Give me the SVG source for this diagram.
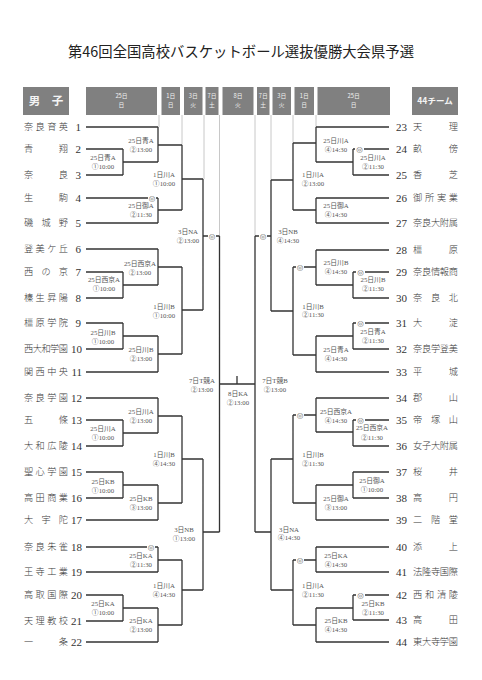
<svg xmlns="http://www.w3.org/2000/svg" width="482" height="680" viewBox="0 0 482 680">
<style>
.title{font-family:"Noto Sans CJK JP",sans-serif;font-size:14.5px;fill:#222}
.hb{fill:#808080}
.ht{font-family:"Noto Sans CJK JP",sans-serif;font-size:5.8px;fill:#f2f2f2;text-anchor:middle}
.hbig{font-family:"Noto Sans CJK JP",sans-serif;font-weight:bold;fill:#f4f4f4;text-anchor:middle}
.nm{font-family:"Noto Sans CJK JP",sans-serif;font-size:9.2px;font-weight:300;fill:#3a3a3a}
.no{font-family:"Liberation Serif",serif;font-size:11px;fill:#333}
.lb{font-family:"Liberation Serif","Noto Sans CJK JP",serif;font-size:6.8px;fill:#555;text-anchor:middle}
.c{font-family:"Noto Sans CJK JP","DejaVu Sans",sans-serif;fill:#555}
.mk{font-family:"DejaVu Sans",sans-serif;font-size:7.5px;fill:#666;text-anchor:middle}
.ln{fill:none;stroke:#333;stroke-width:1.3}
.lt{fill:none;stroke:#c8c8c8;stroke-width:1}
</style>
<rect width="482" height="680" fill="#fff"/>
<text class="title" x="68" y="57" textLength="346" lengthAdjust="spacingAndGlyphs">第46回全国高校バスケットボール選抜優勝大会県予選</text>

<g id="header">
<rect class="hb" x="23" y="87" width="46" height="28"/>
<text class="hbig" x="46" y="105" font-size="11.5">男　子</text>
<rect class="hb" x="86" y="87" width="71" height="28"/><text class="ht" x="121.5" y="97.7">25日</text><text class="ht" x="121.5" y="107">日</text>
<rect class="hb" x="161.5" y="87" width="18.5" height="28"/><text class="ht" x="170.7" y="97.7">1日</text><text class="ht" x="170.7" y="107">日</text>
<rect class="hb" x="184" y="87" width="18.5" height="28"/><text class="ht" x="193.2" y="97.7">3日</text><text class="ht" x="193.2" y="107">火</text>
<rect class="hb" x="205.5" y="87" width="13" height="28"/><text class="ht" x="212" y="97.7">7日</text><text class="ht" x="212" y="107">土</text>
<rect class="hb" x="222.5" y="87" width="31" height="28"/><text class="ht" x="238" y="97.7">8日</text><text class="ht" x="238" y="107">火</text>
<rect class="hb" x="257" y="87" width="12.5" height="28"/><text class="ht" x="263.2" y="97.7">7日</text><text class="ht" x="263.2" y="107">土</text>
<rect class="hb" x="272.5" y="87" width="18.5" height="28"/><text class="ht" x="281.7" y="97.7">3日</text><text class="ht" x="281.7" y="107">火</text>
<rect class="hb" x="294.5" y="87" width="19.5" height="28"/><text class="ht" x="304.2" y="97.7">1日</text><text class="ht" x="304.2" y="107">日</text>
<rect class="hb" x="317.5" y="87" width="72.5" height="28"/><text class="ht" x="353.7" y="97.7">25日</text><text class="ht" x="353.7" y="107">日</text>
<rect class="hb" x="412" y="87" width="46" height="28"/>
<text class="hbig" x="435" y="104" font-size="8.5">44チーム</text>
</g>

<g id="connectors">
<path class="lt" d="M159 115V127M182 115V145M204 115V179M219.5 115V236M255 115V236M271 115V180M293 115V143M316 115V127"/>
<path class="ln" d="M86 127H158M86 149H123M86 175H123M86 198H148M156 198H158M86 223H158M86 249H158M86 272H123M86 298H123M86 323H123M86 349H123M86 372H158M86 398H158M86 420H123M86 446H123M86 472H123M86 498H123M86 520H158M86 547H147M155 547H158M86 572H158M86 595H123M86 621H123M86 642H158"/>
<path class="ln" d="M123 149V175M123 162H158M158 127V162M158 145H182M158 198V223M158 210H182M182 145V210M182 179H203M123 272V298M123 285H158M158 249V285M158 267H182M123 323V349M123 336H158M158 336V372M158 354H182M182 267V354M182 310H203M203 179V310M203 236H208M216 236H219.5M123 420V446M123 433H158M158 398V433M158 416H182M123 472V498M123 485H158M158 485V520M158 503H182M182 416V503M182 459H203M158 547V572M158 560H182M123 595V621M123 608H158M158 608V642M158 625H182M182 560V625M182 590H203M203 459V590M203 532H219.5M219.5 236V532M219.5 384H255M237 376V384M255 236V532"/>
<path class="ln" d="M316 127H389M353 149H355M364 149H389M353 175H389M316 198H389M316 223H389M316 250H389M353 272H356M365 272H389M353 298H389M353 323H356M365 323H389M353 349H389M316 372H389M316 398H389M353 420H356M365 420H389M353 446H389M353 472H389M353 498H389M316 520H389M316 547H389M316 572H389M353 595H356M365 595H389M353 620H389M316 642H389"/>
<path class="ln" d="M353 149V175M353 162H316M316 127V162M316 143H293M316 198V223M316 210H293M293 143V210M293 180H271M353 272V298M353 285H316M316 250V285M316 267H304M296 267H293M353 323V349M353 336H316M316 336V372M316 355H293M293 267V355M293 311H271M271 180V311M271 236H267M259 236H255M353 420V446M353 432H316M316 398V432M316 415H304M296 415H293M353 472V498M353 485H316M316 485V520M316 503H293M293 415V503M293 459H271M316 547V572M316 560H304M296 560H293M353 595V620M353 608H316M316 608V642M316 625H293M293 560V625M293 590H271M271 459V590M271 532H255"/>
<g id="marks">
<text class="mk" x="152" y="200.7">◎</text>
<text class="mk" x="212" y="238.7">◎</text>
<text class="mk" x="151" y="549.7">◎</text>
<text class="mk" x="359.5" y="151.7">◎</text>
<text class="mk" x="263" y="238.7">◎</text>
<text class="mk" x="300" y="269.7">◎</text>
<text class="mk" x="360.5" y="274.7">◎</text>
<text class="mk" x="360.5" y="325.7">◎</text>
<text class="mk" x="300" y="417.7">◎</text>
<text class="mk" x="360.5" y="422.7">◎</text>
<text class="mk" x="300" y="562.7">◎</text>
<text class="mk" x="360.5" y="597.7">◎</text>
</g>
</g>

<g id="teams-left">
<g id="t1"><text class="nm" x="24" y="130.3" textLength="44" lengthAdjust="spacing">奈良育英</text><text class="no" x="81" y="131" text-anchor="end">1</text></g>
<g id="t2"><text class="nm" x="24" y="152.3" textLength="44" lengthAdjust="spacing">青翔</text><text class="no" x="81" y="153" text-anchor="end">2</text></g>
<g id="t3"><text class="nm" x="24" y="178.3" textLength="44" lengthAdjust="spacing">奈良</text><text class="no" x="81" y="179" text-anchor="end">3</text></g>
<g id="t4"><text class="nm" x="24" y="201.3" textLength="44" lengthAdjust="spacing">生駒</text><text class="no" x="81" y="202" text-anchor="end">4</text></g>
<g id="t5"><text class="nm" x="24" y="226.3" textLength="44" lengthAdjust="spacing">磯城野</text><text class="no" x="81" y="227" text-anchor="end">5</text></g>
<g id="t6"><text class="nm" x="24" y="252.3" textLength="44" lengthAdjust="spacing">登美ケ丘</text><text class="no" x="81" y="253" text-anchor="end">6</text></g>
<g id="t7"><text class="nm" x="24" y="275.3" textLength="44" lengthAdjust="spacing">西の京</text><text class="no" x="81" y="276" text-anchor="end">7</text></g>
<g id="t8"><text class="nm" x="24" y="301.3" textLength="44" lengthAdjust="spacing">榛生昇陽</text><text class="no" x="81" y="302" text-anchor="end">8</text></g>
<g id="t9"><text class="nm" x="24" y="326.3" textLength="44" lengthAdjust="spacing">橿原学院</text><text class="no" x="81" y="327" text-anchor="end">9</text></g>
<g id="t10"><text class="nm" x="24" y="352.3" textLength="44" lengthAdjust="spacing">西大和学園</text><text class="no" x="82" y="353" text-anchor="end">10</text></g>
<g id="t11"><text class="nm" x="24" y="375.3" textLength="44" lengthAdjust="spacing">関西中央</text><text class="no" x="82" y="376" text-anchor="end">11</text></g>
<g id="t12"><text class="nm" x="24" y="401.3" textLength="44" lengthAdjust="spacing">奈良学園</text><text class="no" x="82" y="402" text-anchor="end">12</text></g>
<g id="t13"><text class="nm" x="24" y="423.3" textLength="44" lengthAdjust="spacing">五條</text><text class="no" x="82" y="424" text-anchor="end">13</text></g>
<g id="t14"><text class="nm" x="24" y="449.3" textLength="44" lengthAdjust="spacing">大和広陵</text><text class="no" x="82" y="450" text-anchor="end">14</text></g>
<g id="t15"><text class="nm" x="24" y="475.3" textLength="44" lengthAdjust="spacing">聖心学園</text><text class="no" x="82" y="476" text-anchor="end">15</text></g>
<g id="t16"><text class="nm" x="24" y="501.3" textLength="44" lengthAdjust="spacing">高田商業</text><text class="no" x="82" y="502" text-anchor="end">16</text></g>
<g id="t17"><text class="nm" x="24" y="523.3" textLength="44" lengthAdjust="spacing">大宇陀</text><text class="no" x="82" y="524" text-anchor="end">17</text></g>
<g id="t18"><text class="nm" x="24" y="550.3" textLength="44" lengthAdjust="spacing">奈良朱雀</text><text class="no" x="82" y="551" text-anchor="end">18</text></g>
<g id="t19"><text class="nm" x="24" y="575.3" textLength="44" lengthAdjust="spacing">王寺工業</text><text class="no" x="82" y="576" text-anchor="end">19</text></g>
<g id="t20"><text class="nm" x="24" y="598.3" textLength="44" lengthAdjust="spacing">高取国際</text><text class="no" x="82" y="599" text-anchor="end">20</text></g>
<g id="t21"><text class="nm" x="24" y="624.3" textLength="44" lengthAdjust="spacing">天理教校</text><text class="no" x="82" y="625" text-anchor="end">21</text></g>
<g id="t22"><text class="nm" x="24" y="645.3" textLength="44" lengthAdjust="spacing">一条</text><text class="no" x="82" y="646" text-anchor="end">22</text></g>
</g>

<g id="teams-right">
<g id="t23"><text class="no" x="396" y="131">23</text><text class="nm" x="413" y="130.3" textLength="45" lengthAdjust="spacing">天理</text></g>
<g id="t24"><text class="no" x="396" y="153">24</text><text class="nm" x="413" y="152.3" textLength="45" lengthAdjust="spacing">畝傍</text></g>
<g id="t25"><text class="no" x="396" y="179">25</text><text class="nm" x="413" y="178.3" textLength="45" lengthAdjust="spacing">香芝</text></g>
<g id="t26"><text class="no" x="396" y="202">26</text><text class="nm" x="413" y="201.3" textLength="45" lengthAdjust="spacing">御所実業</text></g>
<g id="t27"><text class="no" x="396" y="227">27</text><text class="nm" x="413" y="226.3" textLength="45" lengthAdjust="spacing">奈良大附属</text></g>
<g id="t28"><text class="no" x="396" y="254">28</text><text class="nm" x="413" y="253.3" textLength="45" lengthAdjust="spacing">橿原</text></g>
<g id="t29"><text class="no" x="396" y="276">29</text><text class="nm" x="413" y="275.3" textLength="45" lengthAdjust="spacing">奈良情報商</text></g>
<g id="t30"><text class="no" x="396" y="302">30</text><text class="nm" x="413" y="301.3" textLength="45" lengthAdjust="spacing">奈良北</text></g>
<g id="t31"><text class="no" x="396" y="327">31</text><text class="nm" x="413" y="326.3" textLength="45" lengthAdjust="spacing">大淀</text></g>
<g id="t32"><text class="no" x="396" y="353">32</text><text class="nm" x="413" y="352.3" textLength="45" lengthAdjust="spacing">奈良学登美</text></g>
<g id="t33"><text class="no" x="396" y="376">33</text><text class="nm" x="413" y="375.3" textLength="45" lengthAdjust="spacing">平城</text></g>
<g id="t34"><text class="no" x="396" y="402">34</text><text class="nm" x="413" y="401.3" textLength="45" lengthAdjust="spacing">郡山</text></g>
<g id="t35"><text class="no" x="396" y="424">35</text><text class="nm" x="413" y="423.3" textLength="45" lengthAdjust="spacing">帝塚山</text></g>
<g id="t36"><text class="no" x="396" y="450">36</text><text class="nm" x="413" y="449.3" textLength="45" lengthAdjust="spacing">女子大附属</text></g>
<g id="t37"><text class="no" x="396" y="476">37</text><text class="nm" x="413" y="475.3" textLength="45" lengthAdjust="spacing">桜井</text></g>
<g id="t38"><text class="no" x="396" y="502">38</text><text class="nm" x="413" y="501.3" textLength="45" lengthAdjust="spacing">高円</text></g>
<g id="t39"><text class="no" x="396" y="524">39</text><text class="nm" x="413" y="523.3" textLength="45" lengthAdjust="spacing">二階堂</text></g>
<g id="t40"><text class="no" x="396" y="551">40</text><text class="nm" x="413" y="550.3" textLength="45" lengthAdjust="spacing">添上</text></g>
<g id="t41"><text class="no" x="396" y="576">41</text><text class="nm" x="413" y="575.3" textLength="45" lengthAdjust="spacing">法隆寺国際</text></g>
<g id="t42"><text class="no" x="396" y="599">42</text><text class="nm" x="413" y="598.3" textLength="45" lengthAdjust="spacing">西和清陵</text></g>
<g id="t43"><text class="no" x="396" y="624">43</text><text class="nm" x="413" y="623.3" textLength="45" lengthAdjust="spacing">高田</text></g>
<g id="t44"><text class="no" x="396" y="646">44</text><text class="nm" x="413" y="645.3" textLength="45" lengthAdjust="spacing">東大寺学園</text></g>
</g>

<g id="matches-left">
<g id="mL1"><text class="lb" x="103" y="159.5">25日青A</text><text class="lb" x="103" y="168.5"><tspan class="c">①</tspan>10:00</text></g>
<g id="mL2"><text class="lb" x="141" y="142.5">25日青A</text><text class="lb" x="141" y="151.5"><tspan class="c">②</tspan>13:00</text></g>
<g id="mL3"><text class="lb" x="141" y="208">25日御A</text><text class="lb" x="141" y="216.8"><tspan class="c">②</tspan>11:30</text></g>
<g id="mL4"><text class="lb" x="164" y="176.5">1日川A</text><text class="lb" x="164" y="185.5"><tspan class="c">①</tspan>10:00</text></g>
<g id="mL5"><text class="lb" x="104" y="281.5">25日西京A</text><text class="lb" x="104" y="290.5"><tspan class="c">①</tspan>10:00</text></g>
<g id="mL6"><text class="lb" x="140" y="265.5">25日西京A</text><text class="lb" x="140" y="274.5"><tspan class="c">②</tspan>13:00</text></g>
<g id="mL7"><text class="lb" x="103" y="334.5">25日川B</text><text class="lb" x="103" y="343.5"><tspan class="c">①</tspan>10:00</text></g>
<g id="mL8"><text class="lb" x="141" y="351.5">25日川B</text><text class="lb" x="141" y="360.5"><tspan class="c">②</tspan>13:00</text></g>
<g id="mL9"><text class="lb" x="164" y="308.5">1日川B</text><text class="lb" x="164" y="317.5"><tspan class="c">①</tspan>10:00</text></g>
<g id="mL10"><text class="lb" x="188" y="233.5">3日NA</text><text class="lb" x="188" y="242.5"><tspan class="c">②</tspan>13:00</text></g>
<g id="mL11"><text class="lb" x="103" y="430.5">25日川A</text><text class="lb" x="103" y="439.5"><tspan class="c">①</tspan>10:00</text></g>
<g id="mL12"><text class="lb" x="141" y="414">25日川A</text><text class="lb" x="141" y="422.8"><tspan class="c">②</tspan>13:00</text></g>
<g id="mL13"><text class="lb" x="103" y="483.5">25日KB</text><text class="lb" x="103" y="492.5"><tspan class="c">①</tspan>10:00</text></g>
<g id="mL14"><text class="lb" x="141" y="500.5">25日KB</text><text class="lb" x="141" y="509.5"><tspan class="c">③</tspan>13:00</text></g>
<g id="mL15"><text class="lb" x="164" y="456.5">1日川B</text><text class="lb" x="164" y="465.5"><tspan class="c">④</tspan>14:30</text></g>
<g id="mL16"><text class="lb" x="141" y="558.3">25日KA</text><text class="lb" x="141" y="566.8"><tspan class="c">②</tspan>11:30</text></g>
<g id="mL17"><text class="lb" x="103" y="605.5">25日KA</text><text class="lb" x="103" y="614.5"><tspan class="c">①</tspan>10:00</text></g>
<g id="mL18"><text class="lb" x="141" y="622.5">25日KA</text><text class="lb" x="141" y="631.5"><tspan class="c">②</tspan>13:00</text></g>
<g id="mL19"><text class="lb" x="164" y="588.3">1日川A</text><text class="lb" x="164" y="596.8"><tspan class="c">④</tspan>14:30</text></g>
<g id="mL20"><text class="lb" x="184" y="531.5">3日NB</text><text class="lb" x="184" y="540.5"><tspan class="c">①</tspan>13:00</text></g>
<g id="mSemiA"><text class="lb" x="202" y="382.5">7日T競A</text><text class="lb" x="202" y="391.5"><tspan class="c">②</tspan>13:00</text></g>
<g id="mFinal"><text class="lb" x="238" y="395.5">8日KA</text><text class="lb" x="238" y="404.5"><tspan class="c">②</tspan>13:00</text></g>
<g id="mSemiB"><text class="lb" x="275" y="382.5">7日T競B</text><text class="lb" x="275" y="391.5"><tspan class="c">②</tspan>13:00</text></g>
</g>

<g id="matches-right">
<g id="mR1"><text class="lb" x="336" y="142.5">25日川A</text><text class="lb" x="336" y="151.5"><tspan class="c">④</tspan>14:30</text></g>
<g id="mR2"><text class="lb" x="373" y="160.3">25日川A</text><text class="lb" x="373" y="168.8"><tspan class="c">②</tspan>11:30</text></g>
<g id="mR3"><text class="lb" x="336" y="208.3">25日御A</text><text class="lb" x="336" y="216.8"><tspan class="c">④</tspan>14:30</text></g>
<g id="mR4"><text class="lb" x="313" y="176.5">1日川A</text><text class="lb" x="313" y="185.5"><tspan class="c">②</tspan>13:00</text></g>
<g id="mR5"><text class="lb" x="288" y="234.3">3日NB</text><text class="lb" x="288" y="243.3"><tspan class="c">④</tspan>14:30</text></g>
<g id="mR6"><text class="lb" x="336" y="265.3">25日川B</text><text class="lb" x="336" y="274.3"><tspan class="c">④</tspan>14:30</text></g>
<g id="mR7"><text class="lb" x="373" y="281.8">25日川B</text><text class="lb" x="373" y="291.3"><tspan class="c">②</tspan>11:30</text></g>
<g id="mR8"><text class="lb" x="373" y="334.3">25日青A</text><text class="lb" x="373" y="343.3"><tspan class="c">②</tspan>11:30</text></g>
<g id="mR9"><text class="lb" x="336" y="351.5">25日青A</text><text class="lb" x="336" y="360.5"><tspan class="c">④</tspan>14:30</text></g>
<g id="mR10"><text class="lb" x="313" y="308.5">1日川B</text><text class="lb" x="313" y="317.3"><tspan class="c">②</tspan>11:30</text></g>
<g id="mR11"><text class="lb" x="336" y="413.5">25日西京A</text><text class="lb" x="336" y="422.5"><tspan class="c">④</tspan>14:30</text></g>
<g id="mR12"><text class="lb" x="372" y="430.3">25日西京A</text><text class="lb" x="372" y="439.8"><tspan class="c">②</tspan>11:30</text></g>
<g id="mR13"><text class="lb" x="372" y="482.5">25日御A</text><text class="lb" x="372" y="491.5"><tspan class="c">①</tspan>10:00</text></g>
<g id="mR14"><text class="lb" x="336" y="500.8">25日御A</text><text class="lb" x="336" y="509.5"><tspan class="c">③</tspan>13:00</text></g>
<g id="mR15"><text class="lb" x="313" y="456.5">1日川B</text><text class="lb" x="313" y="465.8"><tspan class="c">②</tspan>11:30</text></g>
<g id="mR16"><text class="lb" x="336" y="557.5">25日KA</text><text class="lb" x="336" y="566.5"><tspan class="c">④</tspan>14:30</text></g>
<g id="mR17"><text class="lb" x="373" y="605.5">25日KB</text><text class="lb" x="373" y="614.5"><tspan class="c">②</tspan>11:30</text></g>
<g id="mR18"><text class="lb" x="336" y="623.3">25日KB</text><text class="lb" x="336" y="631.8"><tspan class="c">④</tspan>14:30</text></g>
<g id="mR19"><text class="lb" x="313" y="587.5">1日川A</text><text class="lb" x="313" y="596.8"><tspan class="c">②</tspan>11:30</text></g>
<g id="mR20"><text class="lb" x="289" y="531.5">3日NA</text><text class="lb" x="289" y="540.3"><tspan class="c">④</tspan>14:30</text></g>
</g>
</svg>
